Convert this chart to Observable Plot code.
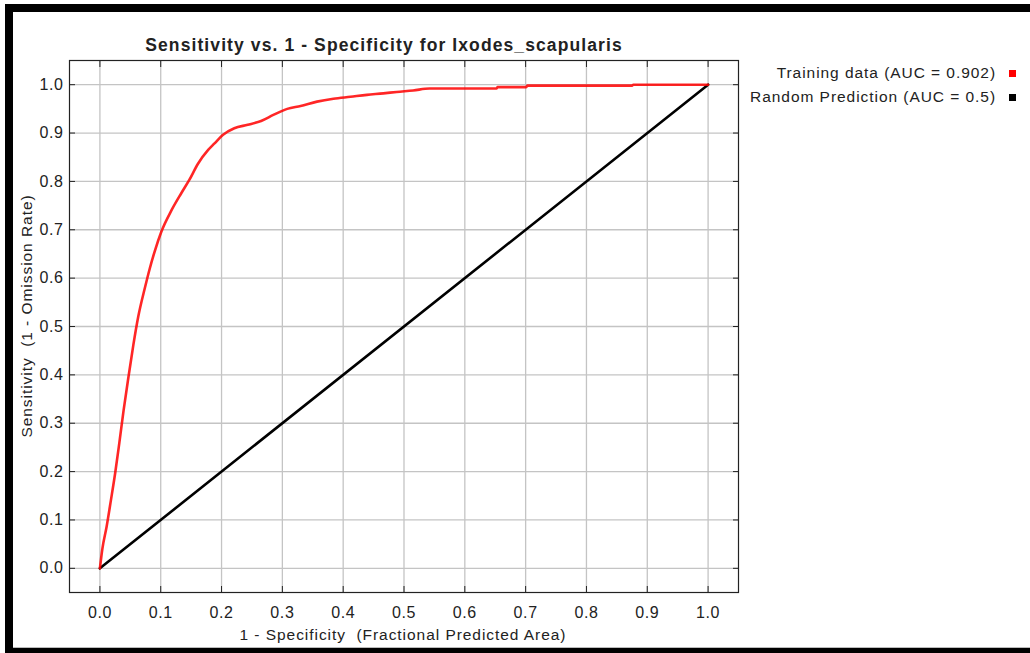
<!DOCTYPE html>
<html>
<head>
<meta charset="utf-8">
<script src="https://cdn.jsdelivr.net/npm/d3@7"></script>
<script src="https://cdn.jsdelivr.net/npm/@observablehq/plot@0.6"></script>
<style>
  html, body { margin: 0; padding: 0; background: #fff; }
  #wrap { position: relative; width: 1030px; height: 653px; overflow: hidden; background: #fff; font-family: "Liberation Sans", Arial, sans-serif; color: #222; }
  #wrap svg { position: absolute; left: 0; top: 0; }
  #wrap svg text { letter-spacing: 0.6px; }
  .band { position: absolute; background: #000; }
  .txt { position: absolute; line-height: 1; white-space: pre; font-size: 15.5px; letter-spacing: 0.95px; }
  .title { font-weight: bold; font-size: 17.5px; letter-spacing: 1.1px; }
  .sq { position: absolute; width: 7px; height: 7px; }
</style>
</head>
<body>
<div id="wrap"></div>
<script>
// ---- data ----
const titleText = "Sensitivity vs. 1 - Specificity for Ixodes_scapularis";
const xLabel = "1 - Specificity  (Fractional Predicted Area)";
const yLabel = "Sensitivity  (1 - Omission Rate)";
const ticks = [0, 0.1, 0.2, 0.3, 0.4, 0.5, 0.6, 0.7, 0.8, 0.9, 1.0];
const seriesNames = ["Training data (AUC = 0.902)", "Random Prediction (AUC = 0.5)"];
const seriesColors = ["#ff0000", "#000000"];
// Training ROC curve (1 - specificity, sensitivity)
const trainFPR = [0, 0.004, 0.011, 0.018, 0.025, 0.032, 0.039, 0.047, 0.055, 0.063, 0.074, 0.082, 0.090, 0.101, 0.118, 0.134, 0.147, 0.161, 0.178, 0.188, 0.202, 0.221, 0.243, 0.265, 0.286, 0.308, 0.330, 0.357, 0.384, 0.412, 0.439, 0.466, 0.488, 0.515, 0.542, 0.652, 0.654, 0.701, 0.703, 0.875, 0.877, 1.0];
const trainTPR = [0, 0.040, 0.086, 0.140, 0.196, 0.260, 0.327, 0.396, 0.462, 0.520, 0.580, 0.620, 0.655, 0.696, 0.741, 0.776, 0.803, 0.836, 0.865, 0.878, 0.896, 0.910, 0.917, 0.925, 0.938, 0.950, 0.956, 0.965, 0.971, 0.975, 0.979, 0.982, 0.985, 0.988, 0.992, 0.992, 0.995, 0.995, 0.998, 0.998, 1.0, 1.0];
// Random prediction line
const randFPR = [0, 1];
const randTPR = [0, 1];

const train = trainFPR.map((x, i) => ({x, y: trainTPR[i]}));
const rand = randFPR.map((x, i) => ({x, y: randTPR[i]}));

const fmt = d3.format(".1f");
const chart = Plot.plot({
  width: 1030,
  height: 653,
  marginLeft: 69,
  marginRight: 292,
  marginTop: 60,
  marginBottom: 61,
  style: {fontFamily: "Liberation Sans, Arial, sans-serif", fontSize: "16px", color: "#222", background: "transparent", overflow: "visible"},
  x: {domain: [-0.05, 1.05], label: null},
  y: {domain: [-0.05, 1.05], label: null},
  marks: [
    Plot.gridX(ticks, {stroke: "#c4c4c4", strokeOpacity: 1, strokeWidth: 1.3}),
    Plot.gridY(ticks, {stroke: "#c4c4c4", strokeOpacity: 1, strokeWidth: 1.3}),
    Plot.axisX(ticks, {anchor: "bottom", tickSize: -6, tickPadding: 20, tickFormat: fmt, label: null, stroke: "#222"}),
    Plot.axisX(ticks, {anchor: "top", tickSize: -6, tickFormat: () => "", label: null, stroke: "#222"}),
    Plot.axisY(ticks, {anchor: "left", tickSize: -6, tickPadding: 12, tickFormat: fmt, label: null, stroke: "#222"}),
    Plot.axisY(ticks, {anchor: "right", tickSize: -6, tickFormat: () => "", label: null, stroke: "#222"}),
    Plot.line(rand, {x: "x", y: "y", stroke: seriesColors[1], strokeWidth: 2.6}),
    Plot.line(train, {x: "x", y: "y", stroke: seriesColors[0], strokeWidth: 2.6, strokeOpacity: 0.85, curve: "monotone-x"}),
    Plot.frame({stroke: "#222", strokeWidth: 1.2})
  ]
});
const wrap = document.getElementById("wrap");
wrap.appendChild(chart);

function addDiv(cls, text, css) {
  const d = document.createElement("div");
  d.className = cls;
  if (text != null) d.textContent = text;
  Object.assign(d.style, css);
  wrap.appendChild(d);
  return d;
}
// title
addDiv("txt title", titleText, {left: "384px", top: "37px", transform: "translateX(-50%)"});
// axis labels
addDiv("txt", xLabel, {left: "403px", top: "627px", transform: "translateX(-50%)"});
addDiv("txt", yLabel, {left: "27px", top: "316px", transform: "translate(-50%, -50%) rotate(-90deg)"});
// legend
seriesNames.forEach((name, i) => {
  addDiv("txt", name, {right: "34px", top: (65 + i * 24) + "px", textAlign: "right"});
  addDiv("sq", null, {left: "1009px", top: (70 + i * 24) + "px", background: seriesColors[i]});
});
// outer black frame bands
addDiv("band", null, {left: "5px", top: "4px", width: "1025px", height: "8px"});
addDiv("band", null, {left: "5px", top: "4px", width: "8px", height: "649px"});
addDiv("band", null, {left: "5px", top: "648px", width: "1025px", height: "5px"});
addDiv("band", null, {left: "13px", top: "647px", width: "1017px", height: "1px", background: "#bbb"});
</script>
</body>
</html>
